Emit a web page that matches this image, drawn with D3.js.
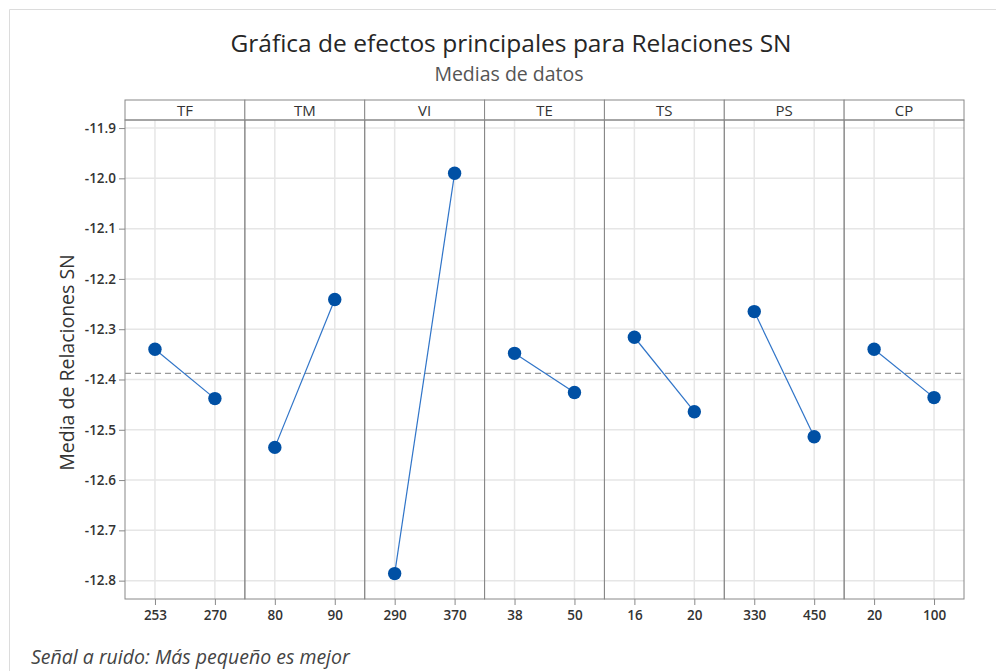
<!DOCTYPE html>
<html>
<head>
<meta charset="utf-8">
<title>Gráfica de efectos principales</title>
<script src="https://d3js.org/d3.v7.min.js"></script>
<style>
    * { margin: 0; padding: 0; box-sizing: border-box; }
    body { background: #fff; font-family: 'Open Sans', 'Noto Sans', sans-serif; }
    svg { display: block; }
</style>
</head>
<body>
<script>
    const factors = ['TF', 'TM', 'VI', 'TE', 'TS', 'PS', 'CP'];
    const levels = [
        ['253', '270'],
        ['80', '90'],
        ['290', '370'],
        ['38', '50'],
        ['16', '20'],
        ['330', '450'],
        ['20', '100']
    ];
    const means = [
        [-12.340, -12.438],
        [-12.535, -12.241],
        [-12.786, -11.990],
        [-12.348, -12.426],
        [-12.316, -12.464],
        [-12.265, -12.514],
        [-12.340, -12.436]
    ];
    const grandMean = -12.388;
    const yTicks = [-11.9, -12.0, -12.1, -12.2, -12.3, -12.4, -12.5, -12.6, -12.7, -12.8];

    const width = 996, height = 671;
    const plotLeft = 125, plotRight = 964, stripTop = 100, plotTop = 120, plotBottom = 599;
    const font = "'Open Sans', 'Noto Sans', sans-serif";

    const svg = d3.select('body').append('svg').attr('width', width).attr('height', height);

    // outer frame
    svg.append('path')
        .attr('d', `M9.5,${height} L9.5,9.5 L${width},9.5`)
        .attr('fill', 'none').attr('stroke', '#dcdcdc');

    svg.append('text').attr('x', 511).attr('y', 52).attr('text-anchor', 'middle')
        .attr('font-size', 24.5).attr('fill', '#262626')
        .text('Gráfica de efectos principales para Relaciones SN');
    svg.append('text').attr('x', 509).attr('y', 81).attr('text-anchor', 'middle')
        .attr('font-size', 19.5).attr('fill', '#555')
        .text('Medias de datos');

    const y = d3.scaleLinear().domain([-12.8365, -11.882]).range([plotBottom, plotTop - 1]);
    const panel = d3.scaleBand().domain(factors).range([plotLeft, plotRight]);

    // horizontal grid
    svg.append('g').selectAll('line').data(yTicks).join('line')
        .attr('x1', plotLeft).attr('x2', plotRight)
        .attr('y1', d => y(d)).attr('y2', d => y(d))
        .attr('stroke', '#e6e6e6').attr('stroke-width', 1.5);

    const yAxis = svg.append('g').attr('transform', `translate(${plotLeft},0)`)
        .call(d3.axisLeft(y).tickValues(yTicks).tickFormat(d => d.toFixed(1)).tickSize(6).tickPadding(3));
    yAxis.select('.domain').remove();
    yAxis.selectAll('line').attr('stroke', '#888');
    yAxis.selectAll('text').attr('font-size', 13.5).attr('font-weight', 600).attr('fill', '#333')
        .attr('font-family', font);

    svg.append('text')
        .attr('transform', `translate(74,${(plotTop + plotBottom) / 2 + 3}) rotate(-90)`)
        .attr('text-anchor', 'middle').attr('font-size', 19.5).attr('fill', '#333')
        .text('Media de Relaciones SN');

    const lineColor = '#2f74c8', dotColor = '#0050a4';

    factors.forEach((f, i) => {
        const x0 = panel(f), w = panel.bandwidth();
        const x = d3.scalePoint().domain(levels[i]).range([x0, x0 + w]).padding(0.5);
        const g = svg.append('g');

        g.selectAll('.vgrid').data(levels[i]).join('line')
            .attr('x1', d => x(d)).attr('x2', d => x(d))
            .attr('y1', plotTop).attr('y2', plotBottom)
            .attr('stroke', '#e6e6e6').attr('stroke-width', 1.5);

        const xAxis = g.append('g').attr('transform', `translate(0,${plotBottom})`)
            .call(d3.axisBottom(x).tickSize(6).tickPadding(5));
        xAxis.select('.domain').remove();
        xAxis.selectAll('line').attr('stroke', '#888');
        xAxis.selectAll('text').attr('font-size', 13.5).attr('font-weight', 600).attr('fill', '#333')
            .attr('font-family', font);

        // strip header
        g.append('rect').attr('x', x0).attr('y', stripTop).attr('width', w).attr('height', plotTop - stripTop)
            .attr('fill', '#fff').attr('stroke', '#888');
        g.append('text').attr('x', x0 + w / 2).attr('y', plotTop - 4).attr('text-anchor', 'middle')
            .attr('font-size', 15).attr('fill', '#333').text(f);

        // panel frame
        g.append('rect').attr('x', x0).attr('y', plotTop).attr('width', w).attr('height', plotBottom - plotTop)
            .attr('fill', 'none').attr('stroke', '#888');
    });

    // grand mean reference line
    svg.append('line')
        .attr('x1', plotLeft).attr('x2', plotRight)
        .attr('y1', y(grandMean)).attr('y2', y(grandMean))
        .attr('stroke', '#999').attr('stroke-width', 1.3).attr('stroke-dasharray', '6,4');

    factors.forEach((f, i) => {
        const x0 = panel(f), w = panel.bandwidth();
        const x = d3.scalePoint().domain(levels[i]).range([x0, x0 + w]).padding(0.5);
        const pts = levels[i].map((l, j) => ({ l, v: means[i][j] }));
        const g = svg.append('g');
        g.append('path').datum(pts)
            .attr('d', d3.line().x(d => x(d.l)).y(d => y(d.v)))
            .attr('fill', 'none').attr('stroke', lineColor).attr('stroke-width', 1.2);
        g.selectAll('circle').data(pts).join('circle')
            .attr('cx', d => x(d.l)).attr('cy', d => y(d.v)).attr('r', 6.7)
            .attr('fill', dotColor);
    });

    svg.append('text').attr('x', 31).attr('y', 664)
        .attr('font-size', 19.5).attr('font-style', 'italic').attr('fill', '#444')
        .text('Señal a ruido: Más pequeño es mejor');
</script>
</body>
</html>
